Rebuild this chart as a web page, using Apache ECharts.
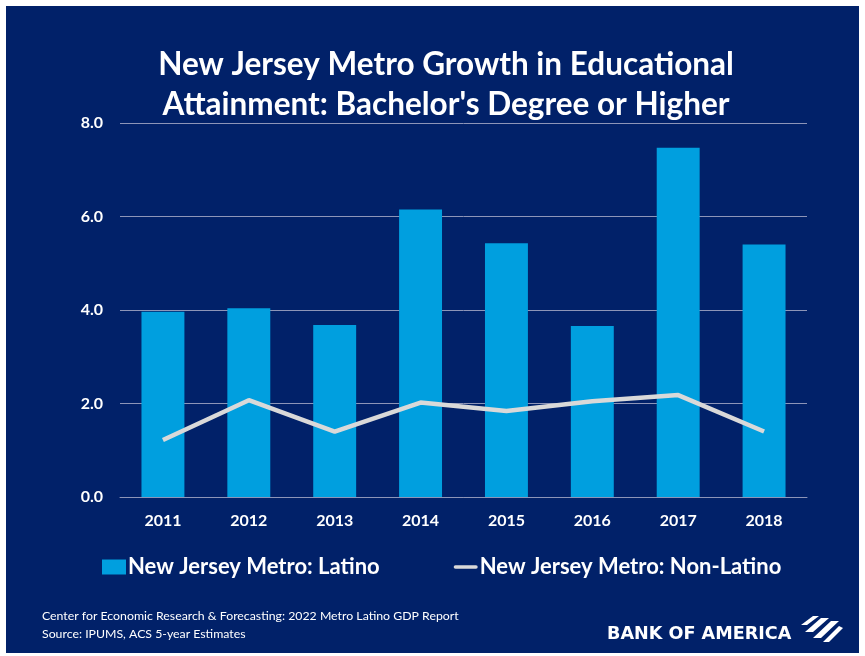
<!DOCTYPE html>
<html>
<head>
<meta charset="utf-8">
<script src="https://cdn.jsdelivr.net/npm/echarts@6/dist/echarts.min.js"></script>
<style>
html,body{margin:0;padding:0;background:#ffffff;}
#chart{width:865px;height:656px;}
</style>
</head>
<body>
<div id="chart"></div>
<script>
const categories = ['2011','2012','2013','2014','2015','2016','2017','2018'];
const latinoValues = [3.96, 4.04, 3.68, 6.15, 5.43, 3.66, 7.47, 5.40];
const nonLatinoValues = [1.22, 2.07, 1.40, 2.02, 1.84, 2.05, 2.18, 1.40];
const yTicks = [0, 2, 4, 6, 8];
const seriesNames = ['New Jersey Metro: Latino', 'New Jersey Metro: Non-Latino'];
const titleLines = ['New Jersey Metro Growth in Educational', "Attainment: Bachelor's Degree or Higher"];
const footerLines = ['Center for Economic Research & Forecasting: 2022 Metro Latino GDP Report', 'Source: IPUMS, ACS 5-year Estimates'];
const brandText = 'BANK OF AMERICA';

const NAVY = '#012169';
const FONT = 'Lato';
const chart = echarts.init(document.getElementById('chart'), null, {renderer: 'canvas'});

const option = {
  backgroundColor: '#ffffff',
  animation: false,
  title: {
    text: titleLines.join('\n'),
    left: 441,
    top: 40,
    textAlign: 'center',
    textStyle: {color: '#ffffff', fontFamily: FONT, fontWeight: 'bold', fontSize: 31.5, lineHeight: 40}
  },
  legend: {
    left: 102,
    top: 556,
    padding: 0,
    itemGap: 74,
    itemWidth: 24,
    itemHeight: 15,
    textStyle: {color: '#ffffff', fontFamily: FONT, fontWeight: 'bold', fontSize: 22, padding: [0,0,0,-3]},
    data: [
      {name: seriesNames[0], icon: 'rect'},
      {name: seriesNames[1], icon: 'path://M2,0 L26,0 A2,2 0 0 1 26,4 L2,4 A2,2 0 0 1 2,0 Z', itemStyle: {color: '#d9d9d9'}}
    ]
  },
  grid: {left: 120, right: 58, top: 123, bottom: 159, containLabel: false},
  xAxis: {
    type: 'category',
    data: categories,
    axisLine: {show: true, lineStyle: {color: '#8d95b8', width: 1}},
    axisTick: {show: false},
    axisLabel: {color: '#ffffff', fontFamily: FONT, fontWeight: 'bold', fontSize: 16, margin: 16}
  },
  yAxis: {
    type: 'value',
    min: yTicks[0],
    max: yTicks[yTicks.length - 1],
    interval: yTicks[1] - yTicks[0],
    axisLine: {show: false},
    axisTick: {show: false},
    splitLine: {lineStyle: {color: '#8d95b8', width: 1}},
    axisLabel: {color: '#ffffff', fontFamily: FONT, fontWeight: 'bold', fontSize: 16, margin: 17,
      formatter: v => v.toFixed(1)}
  },
  series: [
    {
      name: seriesNames[0],
      type: 'bar',
      data: latinoValues,
      barWidth: '50%',
      itemStyle: {color: '#009fdf'},
      z: 2
    },
    {
      name: seriesNames[1],
      type: 'line',
      data: nonLatinoValues,
      symbol: 'none',
      showSymbol: false,
      lineStyle: {color: '#d9d9d9', width: 4.5},
      itemStyle: {color: '#d9d9d9'},
      z: 3
    }
  ],
  graphic: [
    {type: 'rect', shape: {x: 6, y: 6, width: 853, height: 647}, style: {fill: NAVY}, z: -10, silent: true},
    {type: 'text', left: 42, top: 610, style: {text: footerLines[0], fill: '#ffffff', font: '12.3px ' + FONT}, z: 5},
    {type: 'text', left: 42, top: 628, style: {text: footerLines[1], fill: '#ffffff', font: '12.3px ' + FONT}, z: 5},
    {type: 'text', left: 607, top: 625, style: {text: brandText, fill: '#ffffff', font: 'bold 17.6px "DejaVu Sans"'}, z: 5},
    {type: 'group', left: 801, top: 616, z: 5, children: [
      {type: 'polygon', shape: {points: [[14,0],[20,0],[8,9],[2,9]]}, style: {fill: '#ffffff'}},
      {type: 'polygon', shape: {points: [[22,2],[30,2],[14,16],[6,16]]}, style: {fill: '#ffffff'}},
      {type: 'polygon', shape: {points: [[32,5],[40,5],[22,22],[14,22]]}, style: {fill: '#ffffff'}},
      {type: 'polygon', shape: {points: [[40,10],[44,12],[30,26],[24,26]]}, style: {fill: '#ffffff'}}
    ]}
  ]
};
chart.setOption(option);
</script>
</body>
</html>
